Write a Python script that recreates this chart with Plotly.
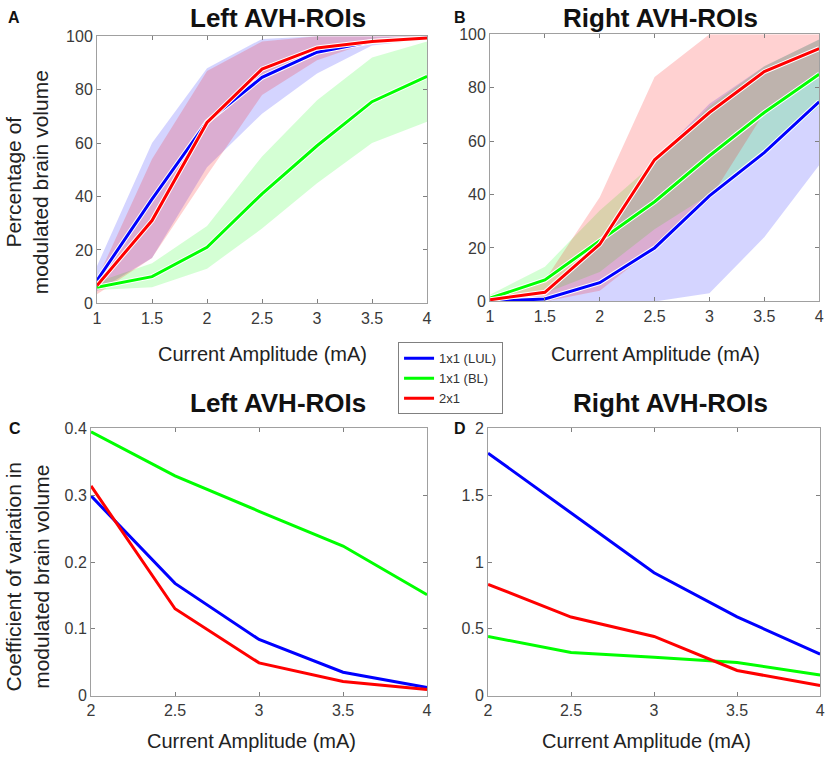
import plotly.graph_objects as go

# current amplitudes (mA)
amp_top = [1, 1.5, 2, 2.5, 3, 3.5, 4]
amp_bot = [2, 2.5, 3, 3.5, 4]

# A : left AVH-ROIs, % modulated volume (mean + band)
left_lul = [8.6, 39, 68, 84.6, 94, 98, 99.3]
left_lul_hi = [14, 60, 88, 99, 100, 100, 100]
left_lul_lo = [4.5, 17, 51, 71, 86, 96.5, 99]
left_bl = [6, 10, 21, 41, 59, 75.5, 85]
left_bl_hi = [8, 15, 29, 55, 76, 92, 98]
left_bl_lo = [5, 6, 13, 28, 45, 60, 68]
left_2x1 = [6.7, 31, 67.7, 87.7, 95.6, 98, 99.3]
left_2x1_hi = [9, 54, 87, 98, 100, 100, 100]
left_2x1_lo = [3.4, 17, 48, 78, 91, 98, 99]

# B : right AVH-ROIs
right_lul = [0, 0.9, 7, 20, 39.5, 55.7, 74.7]
right_lul_hi = [0.5, 2, 22, 53, 74, 88, 98]
right_lul_lo = [0, 0, 0, 0, 3, 24, 51]
right_bl = [1.2, 8, 22.7, 37.3, 54.5, 70.7, 85]
right_bl_hi = [2.5, 13, 34, 52, 73, 88, 98]
right_bl_lo = [0.3, 3, 11, 27, 40, 55, 73]
right_2x1 = [0.6, 3.4, 21.4, 53, 70.7, 86, 94.6]
right_2x1_hi = [1.5, 8, 39, 84, 100, 100, 100]
right_2x1_lo = [0, 0, 4, 20, 38, 70.7, 86]

# C / D : coefficient of variation
cv_left_lul = [0.299, 0.168, 0.084, 0.035, 0.012]
cv_left_bl = [0.395, 0.329, 0.276, 0.224, 0.151]
cv_left_2x1 = [0.314, 0.13, 0.049, 0.021, 0.009]
cv_right_lul = [1.815, 1.37, 0.92, 0.59, 0.31]
cv_right_bl = [0.443, 0.323, 0.288, 0.248, 0.155]
cv_right_2x1 = [0.833, 0.588, 0.443, 0.188, 0.075]

noms = ['1x1 (LUL)', '1x1 (BL)', '2x1']
couleurs = ['#0000ff', '#00ff00', '#ff0000']
bandes = ['rgba(0,0,255,0.17)', 'rgba(0,255,0,0.17)', 'rgba(255,0,0,0.18)']

W, H = 827, 758
fig = go.Figure()

# la capture reduit un peu la page : on corrige les positions visees
DX, SX = 4, 0.989
DY, SY = 8.8, 0.977


def px_x(v):
    return (v - DX) / SX / W


def px_y(v):
    return 1 - (v - DY) / SY / H


def bande(xa, ya, x, hi, lo, col):
    fig.add_trace(go.Scatter(x=x + x[::-1], y=hi + lo[::-1], fill='toself',
                             fillcolor=col, line=dict(width=0), mode='lines',
                             showlegend=False, hoverinfo='skip',
                             xaxis=xa, yaxis=ya))


def ligne(xa, ya, x, y, i, halo=False, legende=False):
    if halo:
        fig.add_trace(go.Scatter(x=x, y=y, mode='lines',
                                 line=dict(color='white', width=5),
                                 showlegend=False, hoverinfo='skip',
                                 xaxis=xa, yaxis=ya))
    fig.add_trace(go.Scatter(x=x, y=y, mode='lines', name=noms[i],
                             line=dict(color=couleurs[i], width=3),
                             showlegend=legende, xaxis=xa, yaxis=ya))


# panel A
for hi, lo, c in [(left_lul_hi, left_lul_lo, bandes[0]),
                  (left_bl_hi, left_bl_lo, bandes[1]),
                  (left_2x1_hi, left_2x1_lo, bandes[2])]:
    bande('x', 'y', amp_top, hi, lo, c)
for i, s in enumerate([left_lul, left_bl, left_2x1]):
    ligne('x', 'y', amp_top, s, i, halo=True, legende=True)

# panel B
for hi, lo, c in [(right_lul_hi, right_lul_lo, bandes[0]),
                  (right_bl_hi, right_bl_lo, bandes[1]),
                  (right_2x1_hi, right_2x1_lo, bandes[2])]:
    bande('x2', 'y2', amp_top, hi, lo, c)
for i, s in enumerate([right_lul, right_bl, right_2x1]):
    ligne('x2', 'y2', amp_top, s, i, halo=True)

# panel C et D
for i, s in enumerate([cv_left_lul, cv_left_bl, cv_left_2x1]):
    ligne('x3', 'y3', amp_bot, s, i)
for i, s in enumerate([cv_right_lul, cv_right_bl, cv_right_2x1]):
    ligne('x4', 'y4', amp_bot, s, i)

axe = dict(showline=True, linecolor='#a0a0a0', linewidth=1, mirror='ticks',
           ticks='inside', ticklen=4, tickcolor='#808080', showgrid=False,
           zeroline=False, ticklabeloverflow='allow',
           tickfont=dict(family='Arial', size=16, color='#3a3a3a'))

dom_top = [px_y(304), px_y(37)]
dom_topB = [px_y(302), px_y(35)]
dom_bot = [px_y(696), px_y(429)]

fig.update_layout(
    width=W, height=H,
    margin=dict(l=0, r=0, t=0, b=0),
    paper_bgcolor='white', plot_bgcolor='white',
    font=dict(family='Arial', color='#222'),
    xaxis=dict(axe, domain=[px_x(97), px_x(427)], range=[1, 4], tickvals=amp_top, anchor='y'),
    yaxis=dict(axe, domain=dom_top, range=[0, 100], dtick=20, anchor='x'),
    xaxis2=dict(axe, domain=[px_x(490), px_x(819)], range=[1, 4], tickvals=amp_top, anchor='y2'),
    yaxis2=dict(axe, domain=dom_topB, range=[0, 100], dtick=20, anchor='x2'),
    xaxis3=dict(axe, domain=[px_x(91), px_x(427)], range=[2, 4], tickvals=amp_bot, anchor='y3'),
    yaxis3=dict(axe, domain=dom_bot, range=[0, 0.4], dtick=0.1, anchor='x3'),
    xaxis4=dict(axe, domain=[px_x(488), px_x(820)], range=[2, 4], tickvals=amp_bot, anchor='y4'),
    yaxis4=dict(axe, domain=dom_bot, range=[0, 2], dtick=0.5, anchor='x4'),
    legend=dict(x=px_x(398), y=px_y(343), xanchor='left', yanchor='top',
                bordercolor='#808080', borderwidth=1, bgcolor='white',
                font=dict(family='Arial', size=13, color='#333'),
                tracegroupgap=0),
)

annots = [
    ('Left AVH-ROIs', 278, 18.6, 26, True, 0),
    ('Right AVH-ROIs', 660, 18.6, 26, True, 0),
    ('Left AVH-ROIs', 278, 404, 26, True, 0),
    ('Right AVH-ROIs', 670, 404, 26, True, 0),
    ('A', 14, 18, 16, True, 0),
    ('B', 460, 18, 16, True, 0),
    ('C', 15, 429, 16, True, 0),
    ('D', 460, 429, 16, True, 0),
    ('Current Amplitude (mA)', 262, 355, 20, False, 0),
    ('Current Amplitude (mA)', 655, 355, 20, False, 0),
    ('Current Amplitude (mA)', 251, 741, 20, False, 0),
    ('Current Amplitude (mA)', 646, 741, 20, False, 0),
    ('Percentage of<br>modulated brain volume', 27, 183, 21, False, -90),
    ('Coefficient of variation in<br>modulated brain volume', 27, 577, 21, False, -90),
]
for txt, x, y, taille, gras, ang in annots:
    fig.add_annotation(text='<b>' + txt + '</b>' if gras else txt,
                       x=px_x(x), y=px_y(y), xref='paper', yref='paper',
                       xanchor='center', yanchor='middle',
                       showarrow=False, textangle=ang,
                       font=dict(family='Arial', size=taille, color='#111' if gras else '#222'))

# pas de marge autour de la figure dans la page
fig.write_html("out.html", config={'displayModeBar': False},
               post_script="document.body.style.margin='0';"
                           "document.documentElement.style.overflow='hidden';")
